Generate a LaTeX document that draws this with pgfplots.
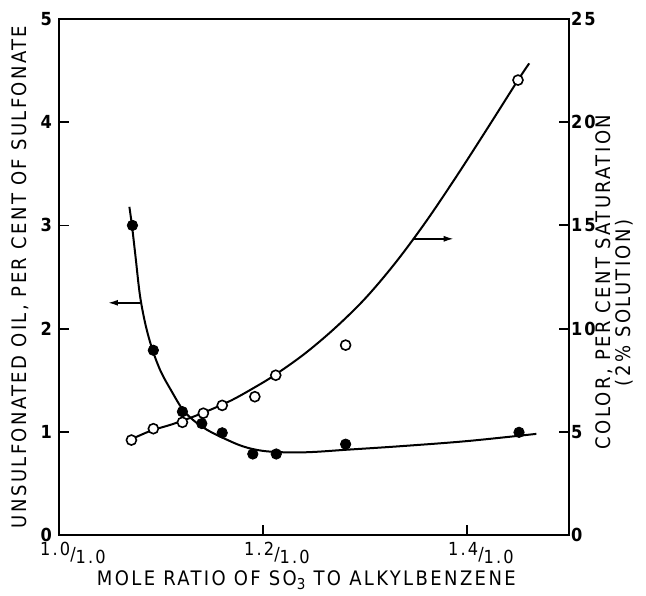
\documentclass[border=0pt]{standalone}
\usepackage{pgfplots}
\pgfplotsset{compat=1.18}
\usepackage{fontspec}
\setmainfont{DejaVu Sans Condensed}[LetterSpace=12]
\usetikzlibrary{arrows.meta}

% ratio tick labels such as 1.2/1.0
\newcommand{\rl}[1]{\raisebox{0.55ex}{#1}/\raisebox{-0.3ex}{1.0}}

\begin{document}
\begin{tikzpicture}[x=1pt,y=1pt]
\useasboundingbox (-29.5,-30) rectangle (293.5,267.5);
\pgfplotsset{every axis/.append style={
  scale only axis, width=255pt, height=258pt,
  xmin=1.0, xmax=1.5, at={(0,0)}, anchor=south west,
  major tick length=5pt, tick align=inside,
  tick style={line width=0.9pt, black},
  axis line style={line width=1pt},
  ticklabel style={font=\fontsize{9}{10}\selectfont\bfseries},
  label style={font=\fontsize{10}{8.5}\selectfont},
  /pgf/number format/assume math mode=true,
}}

% left axis: unsulfonated oil
\begin{axis}[
  ymin=0, ymax=5, ytick={0,1,2,3,4,5},
  xtick={1.0,1.2,1.4}, xticklabels={\rl{1.0},\rl{1.2},\rl{1.4}},
  xticklabel style={xshift=7pt, font=\fontsize{9}{10}\selectfont},
  ytick pos=left, xtick pos=bottom,
  xlabel={MOLE RATIO OF SO\raisebox{-0.4ex}{\fontsize{7.5}{8}\selectfont 3} TO ALKYLBENZENE},
  xlabel style={at={(axis description cs:0.485,-0.087)}, anchor=center},
  ylabel={UNSULFONATED OIL, PER CENT OF SULFONATE},
  ylabel style={at={(axis description cs:-0.0765,0.5)}, anchor=center},
]
  \addplot[black, line width=1pt, smooth, tension=0.55] coordinates {
    (1.069,3.18) (1.0715,3.0) (1.075,2.70) (1.0794,2.32) (1.085,2.03)
    (1.0918,1.79) (1.10,1.58) (1.11,1.40) (1.121,1.22) (1.132,1.11)
    (1.145,1.02) (1.161,0.94) (1.18,0.86) (1.20,0.815) (1.226,0.80)
    (1.25,0.805) (1.28,0.825) (1.334,0.86) (1.40,0.91) (1.468,0.98)
  };
  \addplot[only marks, mark=*, mark size=2.6pt, black] coordinates {
    (1.072,3.0) (1.0925,1.79) (1.121,1.195) (1.140,1.08) (1.160,0.99)
    (1.190,0.785) (1.213,0.785) (1.281,0.88) (1.451,0.995)
  };
  \draw[line width=0.8pt, -{Latex[length=5pt,width=3pt]}]
    (axis cs:1.0795,2.25) -- (axis cs:1.048,2.25);
\end{axis}

% right axis: colour
\begin{axis}[
  ymin=0, ymax=25, ytick={0,5,10,15,20,25},
  axis y line*=right, axis x line=none, clip=false,
  yticklabel style={inner xsep=0.8pt},
]
  \addplot[black, line width=1pt, smooth, tension=0.55] coordinates {
    (1.07,4.62) (1.09,5.05) (1.11,5.35) (1.13,5.7) (1.15,6.1)
    (1.17,6.55) (1.19,7.1) (1.21,7.7) (1.24,8.75) (1.27,10.0)
    (1.30,11.45) (1.33,13.2) (1.36,15.2) (1.39,17.4) (1.42,19.7)
    (1.45,22.04) (1.461,22.85)
  };
  \addplot[only marks, mark=*, mark size=2.5pt,
    mark options={fill=white, draw=black, line width=0.8pt}] coordinates {
    (1.071,4.60) (1.0925,5.15) (1.121,5.46) (1.1415,5.90) (1.160,6.28)
    (1.192,6.70) (1.2125,7.74) (1.281,9.2) (1.450,22.04)
  };
  \draw[line width=0.8pt, -{Latex[length=5pt,width=3pt]}]
    (axis cs:1.347,14.35) -- (axis cs:1.387,14.35);
  \node[rotate=90, font=\fontsize{10}{8.5}\selectfont]
    at (rel axis cs:1.07,0.49) {COLOR, PER CENT SATURATION};
  \node[rotate=90, font=\fontsize{10}{8.5}\selectfont]
    at (rel axis cs:1.109,0.45) {(2\% SOLUTION)};
\end{axis}
\end{tikzpicture}
\end{document}
